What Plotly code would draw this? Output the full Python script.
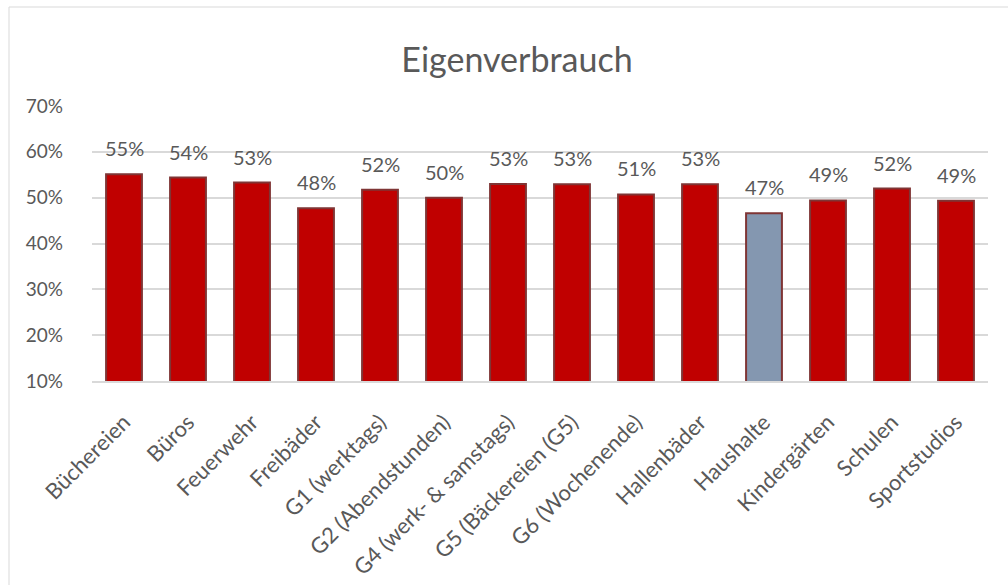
import plotly.graph_objects as go

categories = ["Büchereien", "Büros", "Feuerwehr", "Freibäder", "G1 (werktags)",
              "G2 (Abendstunden)", "G4 (werk- & samstags)", "G5 (Bäckereien (G5)",
              "G6 (Wochenende)", "Hallenbäder", "Haushalte", "Kindergärten",
              "Schulen", "Sportstudios"]
values = [0.551, 0.544, 0.533, 0.477, 0.517, 0.500, 0.530, 0.529,
          0.507, 0.529, 0.466, 0.494, 0.520, 0.493]
highlight = "Haushalte"

RED = "#C00000"
GRAY = "#8497B0"
colors = [GRAY if c == highlight else RED for c in categories]

W, H = 1008, 585
L, R, T, B = 92, 20, 106, 204
FONT = "Lato, 'Open Sans', sans-serif"
TXT = "#595959"

fig = go.Figure()
fig.add_trace(go.Bar(
    x=categories, y=values, marker=dict(color=colors, line=dict(color="#7F3535", width=2)),
    width=0.56, hoverinfo="skip",
))

for c, v in zip(categories, values):
    fig.add_annotation(x=c, y=v, text=f"{round(v*100):.0f}%", showarrow=False,
                       yanchor="bottom", yshift=12,
                       font=dict(family=FONT, size=20, color=TXT))

pw = W - L - R
ph = H - T - B
fig.add_shape(type="rect", xref="paper", yref="paper",
              x0=(9 - L) / pw, x1=(W + 5 - L) / pw,
              y0=(H - B - (H + 5)) / ph, y1=(H - B - 7) / ph,
              line=dict(color="#D9D9D9", width=1), fillcolor="rgba(0,0,0,0)", layer="below")

fig.update_layout(
    width=W, height=H,
    margin=dict(l=L, r=R, t=T, b=B, autoexpand=False),
    paper_bgcolor="white", plot_bgcolor="white",
    showlegend=False,
    title=dict(text="Eigenverbrauch", x=517 / W, xanchor="center",
               y=1 - 60 / H, yanchor="middle",
               font=dict(family=FONT, size=34, color=TXT)),
    font=dict(family=FONT, color=TXT),
)
fig.update_yaxes(range=[0.10, 0.70], dtick=0.1, tickformat=".0%",
                 showgrid=True, gridcolor="#D9D9D9", gridwidth=1.5,
                 zeroline=False, showline=False, ticks="", automargin=False,
                 tickfont=dict(family=FONT, size=19, color=TXT),
                 ticklabelstandoff=28)
fig.update_xaxes(showline=True, linecolor="#D9D9D9", linewidth=1.5, ticks="",
                 automargin=False,
                 tickangle=-45, tickfont=dict(family=FONT, size=22, color=TXT),
                 ticklabelstandoff=18)

fig.write_html("out.html", config={"displayModeBar": False},
               post_script="document.body.style.margin='0';")
